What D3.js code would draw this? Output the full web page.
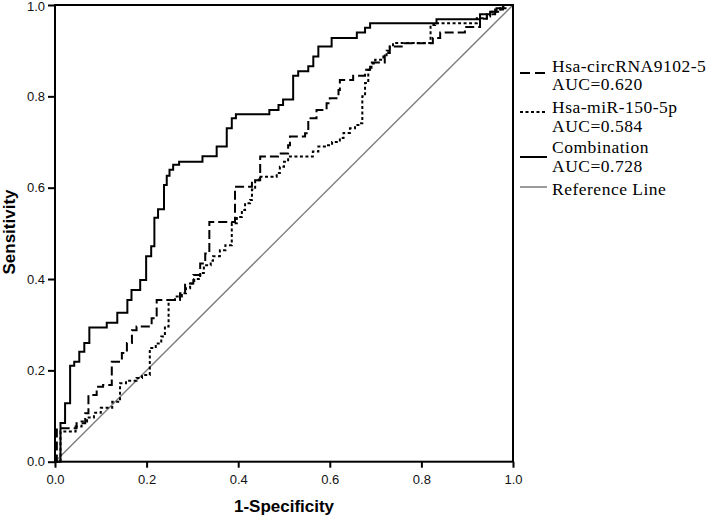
<!DOCTYPE html>
<html>
<head>
<meta charset="utf-8">
<script src="https://cdn.jsdelivr.net/npm/d3@7"></script>
<style>
  body { margin: 0; background: #fff; }
  svg { display: block; }
</style>
</head>
<body>
<div id="chart"></div>
<script>
// ROC staircase points [1-specificity, sensitivity]
var circRNA = [
  [0, 0], [0.004, 0.073], [0.047, 0.084], [0.066, 0.106], [0.073, 0.146],
  [0.091, 0.164], [0.105, 0.168], [0.124, 0.219], [0.146, 0.238], [0.157, 0.260],
  [0.168, 0.288], [0.178, 0.296], [0.211, 0.314], [0.222, 0.354], [0.273, 0.369],
  [0.284, 0.390], [0.302, 0.409], [0.317, 0.434], [0.328, 0.456], [0.337, 0.525],
  [0.393, 0.602], [0.430, 0.616], [0.448, 0.668], [0.487, 0.675], [0.509, 0.693],
  [0.513, 0.712], [0.546, 0.719], [0.553, 0.752], [0.571, 0.770], [0.593, 0.785],
  [0.600, 0.796], [0.619, 0.814], [0.622, 0.836], [0.651, 0.845], [0.677, 0.858],
  [0.688, 0.874], [0.720, 0.895], [0.731, 0.909], [0.757, 0.916], [0.825, 0.928],
  [0.841, 0.940], [0.895, 0.952], [0.928, 0.970], [0.943, 0.980], [0.961, 0.990],
  [0.978, 1.0], [1, 1]
];

var miR150 = [
  [0, 0], [0.012, 0.066], [0.045, 0.077], [0.058, 0.088], [0.070, 0.097],
  [0.085, 0.107], [0.100, 0.118], [0.125, 0.131], [0.142, 0.172], [0.155, 0.177],
  [0.178, 0.183], [0.190, 0.190], [0.207, 0.249], [0.220, 0.259], [0.232, 0.274],
  [0.240, 0.296], [0.248, 0.354], [0.262, 0.362], [0.277, 0.369], [0.286, 0.380],
  [0.295, 0.390], [0.304, 0.400], [0.317, 0.413], [0.325, 0.430], [0.340, 0.440],
  [0.345, 0.450], [0.360, 0.463], [0.372, 0.474], [0.386, 0.522], [0.397, 0.536],
  [0.408, 0.551], [0.415, 0.566], [0.426, 0.573], [0.430, 0.596], [0.437, 0.616],
  [0.445, 0.624], [0.484, 0.632], [0.491, 0.646], [0.500, 0.657], [0.509, 0.668],
  [0.563, 0.679], [0.575, 0.690], [0.593, 0.693], [0.605, 0.700], [0.622, 0.709],
  [0.630, 0.720], [0.644, 0.730], [0.655, 0.737], [0.666, 0.741], [0.671, 0.800],
  [0.677, 0.829], [0.684, 0.858], [0.691, 0.872], [0.699, 0.880], [0.717, 0.887],
  [0.724, 0.900], [0.731, 0.909], [0.738, 0.917], [0.820, 0.956], [0.830, 0.960],
  [0.921, 0.971], [0.943, 0.975], [0.950, 0.985], [0.972, 0.993], [0.986, 1.0],
  [1, 1]
];

var combination = [
  [0, 0], [0.012, 0.085], [0.022, 0.128], [0.033, 0.210], [0.042, 0.219],
  [0.053, 0.241], [0.064, 0.260], [0.075, 0.294], [0.113, 0.304], [0.136, 0.326],
  [0.158, 0.354], [0.167, 0.376], [0.186, 0.398], [0.199, 0.450], [0.210, 0.472],
  [0.217, 0.534], [0.225, 0.553], [0.238, 0.606], [0.244, 0.626], [0.250, 0.639],
  [0.258, 0.650], [0.271, 0.657], [0.322, 0.669], [0.353, 0.690], [0.375, 0.730],
  [0.386, 0.752], [0.395, 0.761], [0.468, 0.770], [0.488, 0.781], [0.498, 0.793],
  [0.520, 0.845], [0.531, 0.855], [0.553, 0.866], [0.564, 0.887], [0.575, 0.909],
  [0.604, 0.928], [0.659, 0.940], [0.677, 0.950], [0.688, 0.960], [0.833, 0.969],
  [0.928, 0.980], [0.950, 0.985], [0.964, 0.993], [0.979, 1.0], [1, 1]
];

var referenceLine = [[0, 0], [1, 1]];

var tickValues = [0, 0.2, 0.4, 0.6, 0.8, 1.0];

var legendNames = ["Hsa-circRNA9102-5", "Hsa-miR-150-5p", "Combination", "Reference Line"];
var legendAUC = ["AUC=0.620", "AUC=0.584", "AUC=0.728", null];

var width = 709, height = 517;
var plot = {left: 55, right: 513, top: 5, bottom: 461.7};

var svg = d3.select("#chart")
  .append("svg")
    .attr("width", width)
    .attr("height", height);

svg.append("rect")
  .attr("width", width)
  .attr("height", height)
  .attr("fill", "#fff");

var x = d3.scaleLinear().domain([0, 1]).range([plot.left, plot.right]);
var y = d3.scaleLinear().domain([0, 1]).range([plot.bottom, plot.top]);

// axes (domain path hidden, frame drawn below)
var xAxis = svg.append("g")
  .attr("transform", "translate(0," + plot.bottom + ")")
  .call(d3.axisBottom(x).tickValues(tickValues).tickFormat(d3.format(".1f")).tickSize(6).tickPadding(7));

var yAxis = svg.append("g")
  .attr("transform", "translate(" + plot.left + ",0)")
  .call(d3.axisLeft(y).tickValues(tickValues).tickFormat(d3.format(".1f")).tickSize(7).tickPadding(3));

[xAxis, yAxis].forEach(function(a) {
  a.select(".domain").remove();
  a.selectAll(".tick line").attr("stroke", "#000").attr("stroke-width", 2);
  a.selectAll(".tick text")
    .attr("fill", "#111")
    .style("font-family", "'Liberation Sans', Arial, sans-serif")
    .style("font-size", "13px");
});

// keep the top "1.0" label inside the picture
yAxis.selectAll(".tick text")
  .filter(function(d) { return d === 1; })
  .attr("dy", "0.42em");

var line = d3.line()
  .x(function(d) { return x(d[0]); })
  .y(function(d) { return y(d[1]); });

var stepLine = d3.line()
  .x(function(d) { return x(d[0]); })
  .y(function(d) { return y(d[1]); })
  .curve(d3.curveStepAfter);

// reference diagonal
svg.append("path")
  .datum(referenceLine)
  .attr("d", line)
  .attr("fill", "none")
  .attr("stroke", "#7a7a7a")
  .attr("stroke-width", 1.3);

var curves = [
  {data: circRNA, dash: "9,4"},
  {data: miR150, dash: "3,2.5"},
  {data: combination, dash: null}
];

curves.forEach(function(c) {
  svg.append("path")
    .datum(c.data)
    .attr("d", stepLine)
    .attr("fill", "none")
    .attr("stroke", "#000")
    .attr("stroke-width", 2)
    .attr("stroke-dasharray", c.dash);
});

// frame
svg.append("rect")
  .attr("x", plot.left)
  .attr("y", plot.top)
  .attr("width", plot.right - plot.left)
  .attr("height", plot.bottom - plot.top)
  .attr("fill", "none")
  .attr("stroke", "#000")
  .attr("stroke-width", 2);

// axis titles
svg.append("text")
  .attr("x", (plot.left + plot.right) / 2)
  .attr("y", 512)
  .attr("text-anchor", "middle")
  .style("font-family", "'Liberation Sans', Arial, sans-serif")
  .style("font-weight", "bold")
  .style("font-size", "17px")
  .text("1-Specificity");

svg.append("text")
  .attr("transform", "translate(15,232) rotate(-90)")
  .attr("text-anchor", "middle")
  .style("font-family", "'Liberation Sans', Arial, sans-serif")
  .style("font-weight", "bold")
  .style("font-size", "17px")
  .text("Sensitivity");

// legend
var legendLineY = [73, 112, 157, 187];
var legendTextY = [71.6, 113.3, 153.3, 195];
var legendStyle = [
  {stroke: "#000", dash: "10,5", w: 2},
  {stroke: "#000", dash: "3,2.5", w: 2},
  {stroke: "#000", dash: null, w: 2},
  {stroke: "#7a7a7a", dash: null, w: 1.5}
];

var legend = svg.append("g");

legendNames.forEach(function(name, i) {
  legend.append("line")
    .attr("x1", 520).attr("x2", 547)
    .attr("y1", legendLineY[i]).attr("y2", legendLineY[i])
    .attr("stroke", legendStyle[i].stroke)
    .attr("stroke-width", legendStyle[i].w)
    .attr("stroke-dasharray", legendStyle[i].dash);

  var t = legend.append("text")
    .attr("x", 552)
    .attr("y", legendTextY[i])
    .style("font-family", "'Liberation Serif', 'Times New Roman', serif")
    .style("font-size", "17.5px")
    .style("letter-spacing", "0.5px")
    .attr("fill", "#000");
  t.append("tspan").attr("x", 552).text(name);
  if (legendAUC[i]) {
    t.append("tspan").attr("x", 552).attr("dy", 18.4).text(legendAUC[i]);
  }
});
</script>
</body>
</html>
